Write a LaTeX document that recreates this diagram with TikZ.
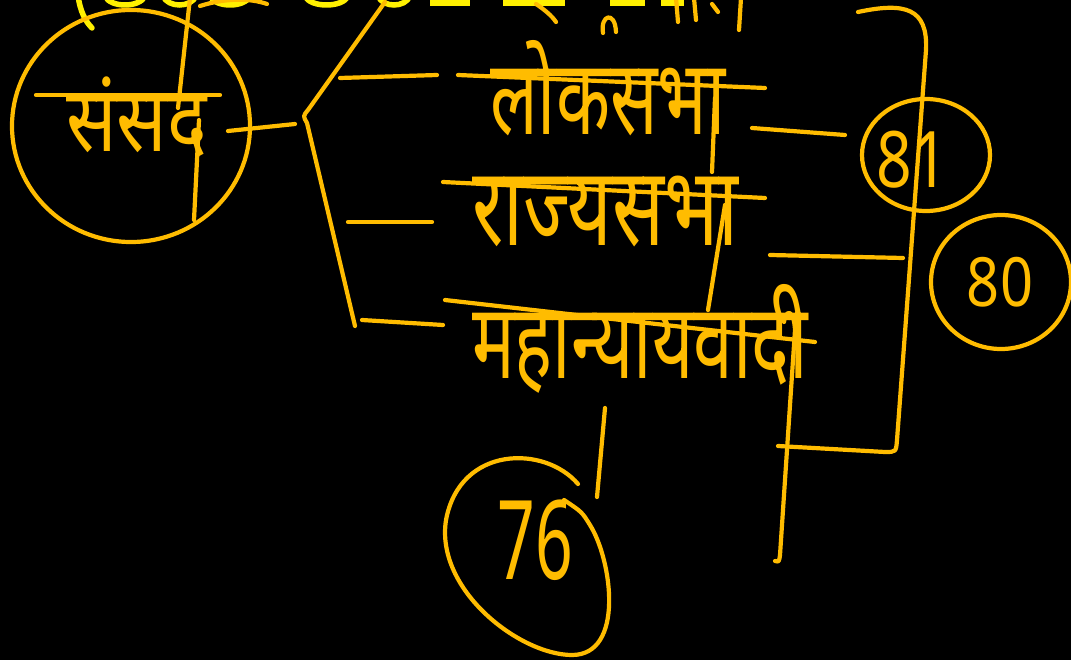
\documentclass[tikz,border=0pt]{standalone}
\usepackage{fontspec}
\newfontfamily\deva[Script=Devanagari]{Noto Sans}
\newfontfamily\numfont{Noto Sans}
\definecolor{ink}{RGB}{255,188,0}
\definecolor{hl}{RGB}{255,240,0}
\begin{document}
\begin{tikzpicture}[x=1pt,y=-1pt,
  stroke/.style={draw=ink,line width=4.2pt,line cap=round,line join=round},
  hlstroke/.style={draw=hl,line width=5.5pt,line cap=round},
  lbl/.style={text=ink,inner sep=0pt,anchor=base west}]
\useasboundingbox (0,0) rectangle (1071,660);
\fill[black] (0,0) rectangle (1071,660);
\clip (0,0) rectangle (1071,660);
% partial title at the top edge
\draw[hlstroke] (78,-5) .. controls (80,12) and (86,22) .. (92,28);
\foreach \a/\b in {105/145,163/196,210/250,305/348,378/410}
  \draw[hlstroke] (\a,-4) .. controls (\a+5,8) and (\b-5,8) .. (\b,-4);
\foreach \a/\b in {430/470,503/565,610/645,661/684}
  \fill[hl] (\a,-2) rectangle (\b,6);
\draw[stroke] (200,6) .. controls (225,-2) and (250,-2) .. (267,4);
\draw[stroke] (536,4) .. controls (545,10) and (552,16) .. (556,22);
\draw[stroke] (603,33) .. controls (600,15) and (615,10) .. (616,32);
\draw[stroke] (676,-2) -- (678,22);
\draw[stroke] (694,-2) -- (696,20);
\draw[stroke] (712,4) -- (718,12);
\draw[stroke] (741,-2) -- (739,30);
% Sansad
\node[lbl,font=\deva\fontsize{90}{90}\selectfont,xscale=0.83] (sansad) at (66,152) {संसद};
\draw[stroke] (131,126) ellipse [x radius=119, y radius=116];
\draw[stroke] (36,95) -- (220,95);
\draw[stroke] (190,-2) -- (178,108);
\draw[stroke] (199,120) -- (194,220);
\coordinate (fork) at (305,118);
\draw[stroke] (228,131) -- (295,124);
\draw[stroke] (385,2) -- (308,110) .. controls (303,116) .. (307,123) -- (355,326);
\draw[stroke] (340,78) -- (437,75);
\draw[stroke] (348,222) -- (432,222);
\draw[stroke] (362,320) -- (443,325);
% branches
\node[lbl,font=\deva\fontsize{105}{110}\selectfont,xscale=0.67] (lok) at (490,135) {लोकसभा};
\node[lbl,font=\deva\fontsize{110}{110}\selectfont,xscale=0.7] (rajya) at (472,246) {राज्यसभा};
\node[lbl,font=\deva\fontsize{105}{110}\selectfont,xscale=0.68] (ag) at (472,378) {महान्यायवादी};
\draw[stroke] (458,75) -- (765,88);
\draw[stroke] (443,182) -- (765,198);
\draw[stroke] (445,300) -- (815,342);
\draw[stroke] (715,98) -- (712,172);
\draw[stroke] (725,205) -- (708,310);
\draw[stroke] (784,322) .. controls (786,308) and (794,310) .. (795,330) -- (780,555) .. controls (779,562) .. (775,561);
% right bracket
\draw[stroke] (858,12) .. controls (905,2) and (928,8) .. (926,50) -- (897,440) .. controls (896,452) .. (885,452) -- (778,446);
\draw[stroke] (752,128) -- (845,135);
\draw[stroke] (770,255) -- (903,258);
% circled numbers
\node[text=ink,font=\numfont\fontsize{78}{80}\selectfont,xscale=0.8] (n81) at (912,160) {81};
\draw[stroke] (926,155) ellipse [x radius=64, y radius=56];
\node[text=ink,font=\numfont\fontsize{68}{70}\selectfont,xscale=0.85] (n80) at (1000,282) {80};
\draw[stroke] (1001,282) ellipse [x radius=70, y radius=67];
\node[text=ink,font=\numfont\fontsize{110}{110}\selectfont,xscale=0.6] (n76) at (535,540) {76};
\draw[stroke] (578,484) .. controls (545,445) and (460,445) .. (446,520) .. controls (435,590) and (520,655) .. (572,655) .. controls (625,655) and (612,560) .. (590,525) .. controls (582,512) .. (564,500);
\draw[stroke] (605,408) -- (597,497);
\end{tikzpicture}
\end{document}
